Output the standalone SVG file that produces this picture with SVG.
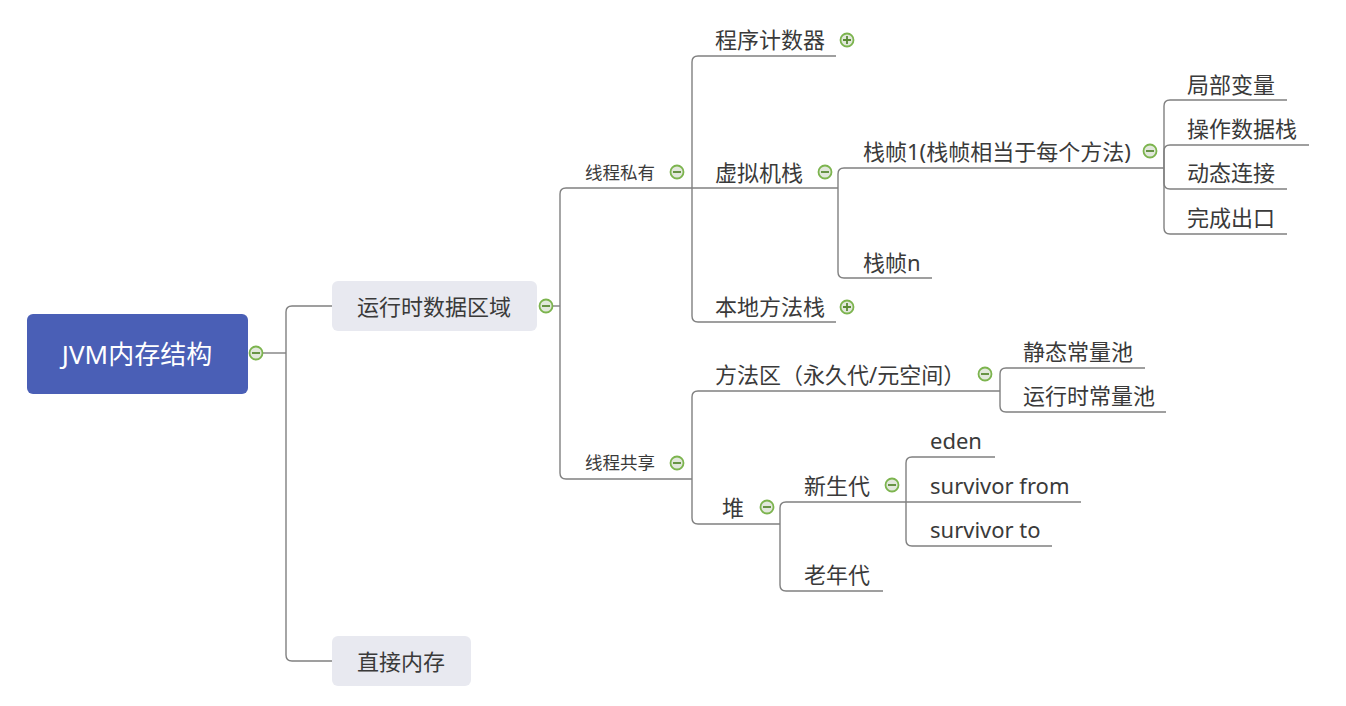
<svg xmlns="http://www.w3.org/2000/svg" width="1346" height="706" viewBox="0 0 1346 706">
<defs>
<style>
.ln{fill:none;stroke:#808080;stroke-width:1.4}
.t{font-family:"Noto Sans","Noto Sans CJK SC",sans-serif;font-size:22px;fill:#3a3a3a}
.s{font-family:"Noto Sans","Noto Sans CJK SC",sans-serif;font-size:17.5px;fill:#3a3a3a}
.icc{fill:#e2e8dc;stroke:#7cb44e;stroke-width:1.8}
.icp{stroke:#5a8a34;stroke-width:1.8;fill:none}
</style>
<g id="minus"><circle class="icc" cx="0" cy="0" r="6.5"/><path class="icp" d="M-4,0H4"/></g>
<g id="plus"><circle class="icc" cx="0" cy="0" r="6.5"/><path class="icp" d="M-4,0H4M0,-4V4"/></g>
</defs>
<rect width="1346" height="706" fill="#ffffff"/>
<g id="connectors">
<path class="ln" d="M263,353H286"/>
<path class="ln" d="M332,306H292Q286,306 286,312V655Q286,661 292,661H332"/>
<path class="ln" d="M553,306H560"/>
<path class="ln" d="M692,188H566Q560,188 560,194V473Q560,479 566,479H692"/>
<path class="ln" d="M836,56H698Q692,56 692,62V316Q692,322 698,322H836"/>
<path class="ln" d="M692,188H838"/>
<path class="ln" d="M1164,168H844Q838,168 838,174V272Q838,278 844,278H932"/>
<path class="ln" d="M1164,168V106Q1164,100 1170,100H1287"/>
<path class="ln" d="M1164,168V151Q1164,145 1170,145H1309"/>
<path class="ln" d="M1164,168V183Q1164,189 1170,189H1287"/>
<path class="ln" d="M1164,168V228Q1164,234 1170,234H1287"/>
<path class="ln" d="M1000,391H698Q692,391 692,397V518Q692,524 698,524H780"/>
<path class="ln" d="M1000,391V374Q1000,368 1006,368H1145"/>
<path class="ln" d="M1000,391V406Q1000,412 1006,412H1166"/>
<path class="ln" d="M780,524V508Q780,502 786,502H906"/>
<path class="ln" d="M780,524V585Q780,591 786,591H883"/>
<path class="ln" d="M906,502V463Q906,457 912,457H995"/>
<path class="ln" d="M906,502H1081"/>
<path class="ln" d="M906,502V540Q906,546 912,546H1052"/>
</g>
<g id="root">
<rect x="27" y="314" width="221" height="80" rx="6" fill="#4a5fb6"/>
<text x="137" y="364" text-anchor="middle" style="font-family:'Noto Sans','Noto Sans CJK SC',sans-serif;font-size:26px;fill:#ffffff">JVM内存结构</text>
<use href="#minus" x="256" y="353"/>
</g>
<g id="runtime">
<rect x="332" y="281" width="205" height="50" rx="6" fill="#e8e9f0"/>
<text class="t" x="434" y="315" text-anchor="middle">运行时数据区域</text>
<use href="#minus" x="546" y="306"/>
</g>
<g id="direct">
<rect x="332" y="636" width="139" height="50" rx="6" fill="#e8e9f0"/>
<text class="t" x="401" y="670" text-anchor="middle">直接内存</text>
</g>
<g id="private"><text class="s" x="585" y="179">线程私有</text><use href="#minus" x="677" y="172"/></g>
<g id="shared"><text class="s" x="585" y="469">线程共享</text><use href="#minus" x="677" y="463"/></g>
<g id="pc"><text class="t" x="715" y="48">程序计数器</text><use href="#plus" x="847" y="40"/></g>
<g id="vmstack"><text class="t" x="715" y="181">虚拟机栈</text><use href="#minus" x="825" y="172"/></g>
<g id="native"><text class="t" x="715" y="315">本地方法栈</text><use href="#plus" x="847" y="307"/></g>
<g id="frame1"><text class="t" x="863" y="160">栈帧1(栈帧相当于每个方法)</text><use href="#minus" x="1150" y="151"/></g>
<g id="framen"><text class="t" x="863" y="271">栈帧n</text></g>
<g id="locals"><text class="t" x="1187" y="93">局部变量</text></g>
<g id="opstack"><text class="t" x="1187" y="137">操作数据栈</text></g>
<g id="dynlink"><text class="t" x="1187" y="181">动态连接</text></g>
<g id="exit"><text class="t" x="1187" y="226">完成出口</text></g>
<g id="method"><text class="t" x="715" y="383">方法区（永久代/元空间）</text><use href="#minus" x="985" y="374"/></g>
<g id="static"><text class="t" x="1023" y="360">静态常量池</text></g>
<g id="rtpool"><text class="t" x="1023" y="404">运行时常量池</text></g>
<g id="heap"><text class="t" x="722" y="516">堆</text><use href="#minus" x="767" y="507"/></g>
<g id="young"><text class="t" x="804" y="494">新生代</text><use href="#minus" x="892" y="485"/></g>
<g id="old"><text class="t" x="804" y="583">老年代</text></g>
<g id="eden"><text class="t" x="930" y="449">eden</text></g>
<g id="sfrom"><text class="t" x="930" y="494">survivor from</text></g>
<g id="sto"><text class="t" x="930" y="538">survivor to</text></g>
</svg>
